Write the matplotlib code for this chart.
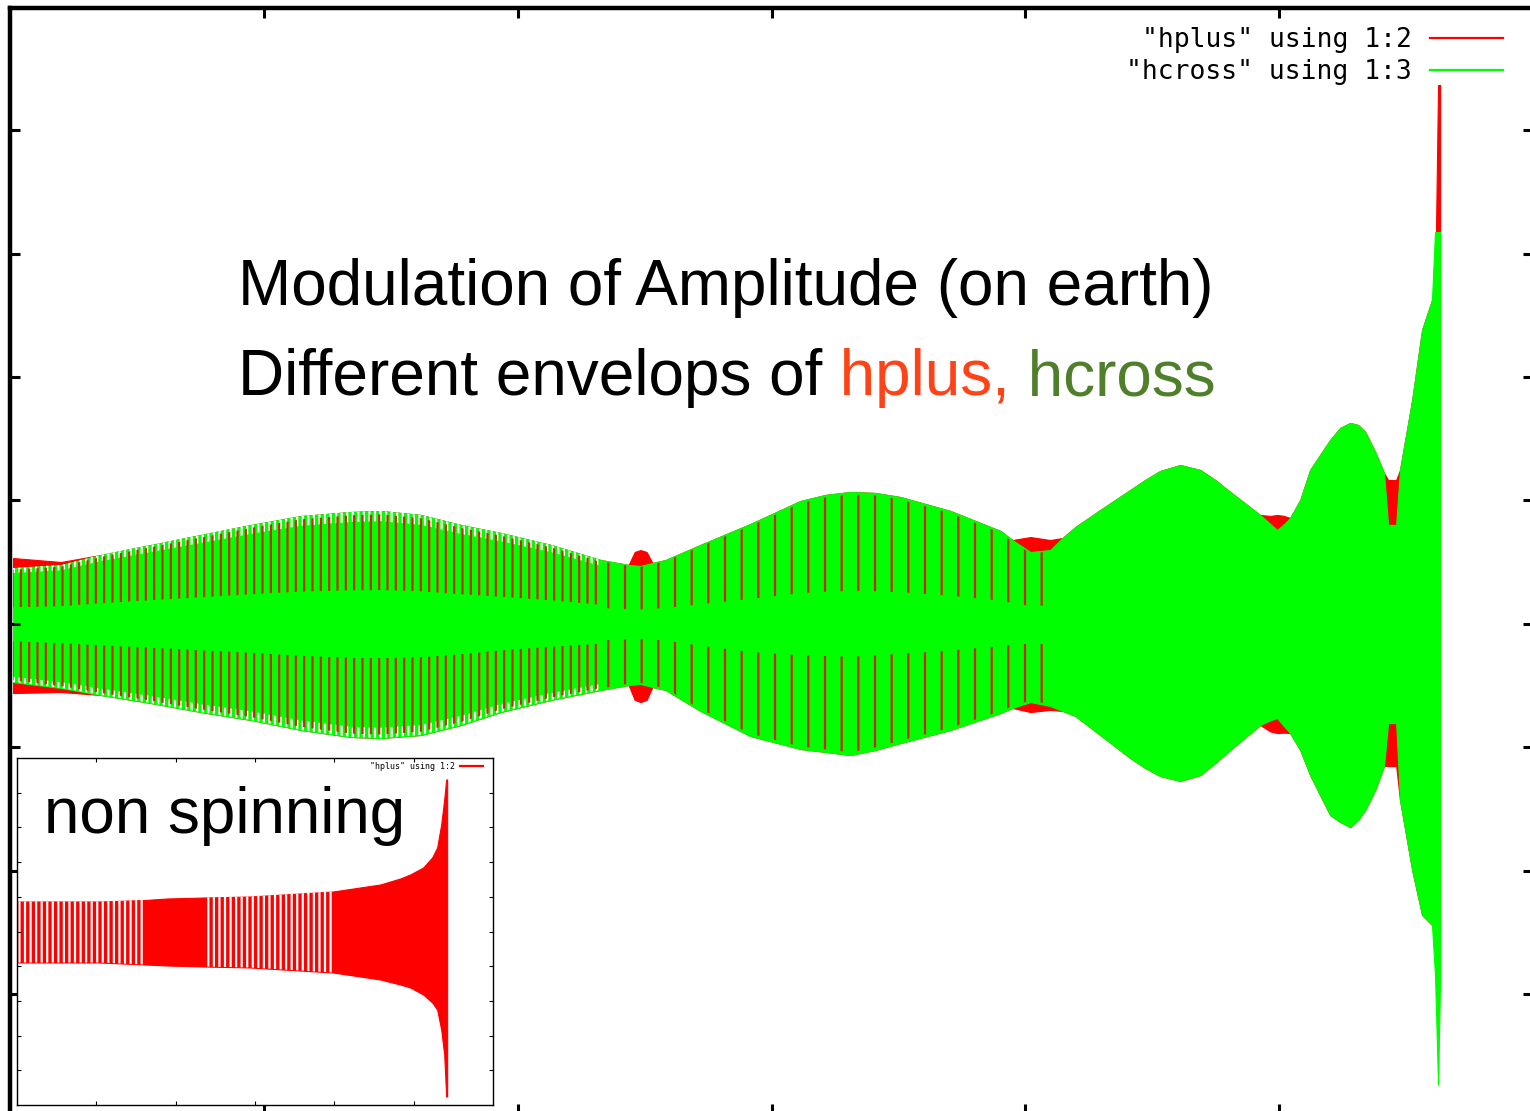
"""Amplitude modulation of a precessing inspiral: hplus / hcross envelopes."""
import numpy as np
import matplotlib
matplotlib.use("Agg")
import matplotlib.pyplot as plt
from matplotlib.lines import Line2D

plt.rcParams["hatch.linewidth"] = 1.6

# ------------------------------------------------ spinning binary (main)
t = np.array([0.012, 0.201, 0.358, 0.555, 0.752, 0.949, 1.146, 1.343, 1.461, 1.618,
              1.776, 1.933, 2.130, 2.327, 2.437, 2.461, 2.484, 2.508, 2.531, 2.583,
              2.720, 2.917, 3.114, 3.213, 3.311, 3.409, 3.508, 3.705, 3.902, 3.949,
              4.020, 4.098, 4.146, 4.197, 4.295, 4.413, 4.472, 4.531, 4.610, 4.689,
              4.748, 4.807, 4.925, 4.965, 4.992, 5.020, 5.043, 5.083, 5.122, 5.161,
              5.201, 5.240, 5.280, 5.311, 5.339, 5.378, 5.413, 5.429, 5.461, 5.476,
              5.524, 5.563, 5.602, 5.614, 5.626, 5.634])

hcross_hi = np.array([0.453, 0.478, 0.559, 0.640, 0.721, 0.802, 0.874, 0.907, 0.915, 0.883,
                      0.802, 0.737, 0.640, 0.518, 0.478, 0.474, 0.470, 0.482, 0.494, 0.518,
                      0.640, 0.810, 0.996, 1.045, 1.069, 1.061, 1.028, 0.915, 0.753, 0.680,
                      0.583, 0.599, 0.696, 0.785, 0.923, 1.085, 1.166, 1.239, 1.287, 1.247,
                      1.166, 1.069, 0.883, 0.810, 0.761, 0.810, 0.858, 1.004, 1.247, 1.368,
                      1.490, 1.587, 1.628, 1.611, 1.555, 1.393, 1.223, 0.802, 0.802, 1.247,
                      1.814, 2.381, 2.623, 3.174, 3.174, 3.174])
hcross_lo = np.array([-0.470, -0.518, -0.575, -0.640, -0.713, -0.777, -0.858, -0.915, -0.923, -0.899,
                      -0.818, -0.713, -0.615, -0.534, -0.494, -0.490, -0.486, -0.498, -0.510, -0.534,
                      -0.704, -0.907, -1.012, -1.036, -1.061, -1.020, -0.964, -0.858, -0.721, -0.680,
                      -0.632, -0.664, -0.704, -0.745, -0.899, -1.085, -1.166, -1.231, -1.271, -1.223,
                      -1.126, -1.020, -0.818, -0.780, -0.761, -0.830, -0.883, -1.020, -1.223, -1.385,
                      -1.547, -1.603, -1.644, -1.587, -1.506, -1.344, -1.150, -0.802, -0.802, -1.425,
                      -1.992, -2.356, -2.437, -2.842, -3.733, -2.842])

hplus_hi = np.array([0.534, 0.502, 0.559, 0.640, 0.721, 0.802, 0.874, 0.907, 0.915, 0.883,
                     0.802, 0.737, 0.640, 0.518, 0.478, 0.583, 0.599, 0.583, 0.494, 0.518,
                     0.640, 0.810, 0.996, 1.045, 1.069, 1.061, 1.028, 0.915, 0.753, 0.680,
                     0.704, 0.680, 0.696, 0.785, 0.923, 1.085, 1.166, 1.239, 1.287, 1.247,
                     1.166, 1.069, 0.883, 0.875, 0.883, 0.875, 0.858, 1.004, 1.247, 1.368,
                     1.490, 1.587, 1.628, 1.611, 1.555, 1.393, 1.223, 1.166, 1.166, 1.247,
                     1.814, 2.381, 2.623, 2.623, 4.364, 4.364])
hplus_lo = np.array([-0.559, -0.551, -0.575, -0.640, -0.713, -0.777, -0.858, -0.915, -0.923, -0.899,
                     -0.818, -0.713, -0.615, -0.534, -0.494, -0.615, -0.632, -0.615, -0.510, -0.534,
                     -0.704, -0.907, -1.012, -1.036, -1.061, -1.020, -0.964, -0.858, -0.721, -0.680,
                     -0.713, -0.696, -0.704, -0.745, -0.899, -1.085, -1.166, -1.231, -1.271, -1.223,
                     -1.126, -1.020, -0.818, -0.870, -0.883, -0.880, -0.883, -1.020, -1.223, -1.385,
                     -1.547, -1.603, -1.644, -1.587, -1.506, -1.344, -1.150, -1.150, -1.150, -1.425,
                     -1.992, -2.356, -2.437, -2.478, -2.478, -2.478])

# ------------------------------------------------ non-spinning (inset)
t_ns = np.array([0.013, 1.047, 1.614, 1.892, 2.371, 2.938, 3.985, 4.578,
                 4.830, 4.956, 5.120, 5.233, 5.296, 5.347, 5.385, 5.410, 5.422])
ns_hi = np.array([0.865, 0.865, 0.908, 0.951, 0.980, 1.009, 1.153, 1.354,
                  1.527, 1.643, 1.844, 2.133, 2.421, 3.084, 3.804, 4.380, 4.380])
ns_lo = np.array([-0.893, -0.893, -0.951, -0.980, -1.009, -1.037, -1.182,
                  -1.383, -1.527, -1.614, -1.816, -2.046, -2.248, -2.824,
                  -3.545, -4.755, -4.755])

labels = ['"hplus" using 1:2', '"hcross" using 1:3']

RED, GREEN, STRIPE = "#ff0000", "#00ff00", "#c82a06"
SANS, MONO = "Liberation Sans", "DejaVu Sans Mono"
W, H = 1530, 1111

fig = plt.figure(figsize=(W / 100, H / 100), dpi=100)

ax = fig.add_axes([10 / W, -3 / H, 1523 / W, 1106 / H])
ax.set_xlim(0, 6.0)
ax.set_ylim(-3.968, 4.988)
ax.fill_between(t, hplus_hi, hplus_lo, color=RED, lw=0.8)
ax.fill_between(t, hcross_hi, hcross_lo, color=GREEN, lw=0.8)

# undersampled carrier shows up as a comb of stripes
dense = t <= 2.33
sparse = (t >= 2.32) & (t <= 4.10)
for hi in (hcross_hi, hcross_lo):
    ax.fill_between(t, hi, 0.91 * hi, where=dense, facecolor="none",
                    edgecolor="white", hatch="|||", lw=0)
    ax.fill_between(t, 0.97 * hi, 0.3 * hi, where=dense, facecolor="none",
                    edgecolor=STRIPE, hatch="||", lw=0)
    ax.fill_between(t, 0.98 * hi, 0.25 * hi, where=sparse, facecolor="none",
                    edgecolor=STRIPE, hatch="|", lw=0)

ax.set_xticks(range(1, 6))
ax.set_yticks(range(-3, 5))
ax.tick_params(direction="in", length=7, width=2.2, top=True, right=True,
               labelbottom=False, labelleft=False)
for s in ax.spines.values():
    s.set_linewidth(3.2)

handles = [Line2D([], [], color=RED, lw=1.6), Line2D([], [], color=GREEN, lw=1.6)]
ax.legend(handles, labels, loc="upper right",
          bbox_to_anchor=(1503 / W, 1 - 27 / H), bbox_transform=fig.transFigure,
          frameon=False, markerfirst=False, prop={"family": MONO, "size": 19},
          handlelength=2.77, handletextpad=0.68, labelspacing=0.23,
          borderpad=0, borderaxespad=0)

# ------------------------------------------------ inset
ins = fig.add_axes([17 / W, 1 - 1105 / H, 476 / W, 347 / H], zorder=2)
ins.set_facecolor("white")
ins.set_xlim(0, 6)
ins.set_ylim(-5, 5)
ins.fill_between(t_ns, ns_hi, ns_lo, color=RED, lw=0.8)
bands = ((t_ns <= 1.62) | (t_ns >= 2.37)) & (t_ns <= 4.0)
ins.fill_between(t_ns, ns_hi, ns_lo, where=bands, facecolor="none",
                 edgecolor="white", hatch="|||", lw=0)
ins.set_xticks(range(1, 6))
ins.set_yticks(range(-4, 5))
ins.tick_params(direction="in", length=3, width=0.8, top=True, right=True,
                labelbottom=False, labelleft=False)
for s in ins.spines.values():
    s.set_linewidth(1.0)
ins.legend(handles[:1], labels[:1], loc="upper right",
           bbox_to_anchor=(483 / W, 1 - 762 / H), bbox_transform=fig.transFigure,
           frameon=False, markerfirst=False, prop={"family": MONO, "size": 6},
           handlelength=2.8, handletextpad=0.6, borderpad=0, borderaxespad=0)

# ------------------------------------------------ annotations
fig.text(238 / W, 1 - 305 / H, "Modulation of Amplitude (on earth)",
         family=SANS, fontsize=46, va="baseline")
line2 = fig.text(238 / W, 1 - 395 / H, "Different envelops of",
                 family=SANS, fontsize=46, va="baseline")
hp = ax.annotate(" hplus,", xy=(1, 0), xycoords=line2, va="bottom",
                 family=SANS, fontsize=46, color="#ff4316",
                 annotation_clip=False)
ax.annotate(" hcross", xy=(1, 0), xycoords=hp, va="bottom",
            family=SANS, fontsize=46, color="#4f7f2b", annotation_clip=False)
fig.text(44 / W, 1 - 833 / H, "non spinning", family=SANS, fontsize=46,
         va="baseline", zorder=5)

fig.savefig("out.png", dpi=100)
